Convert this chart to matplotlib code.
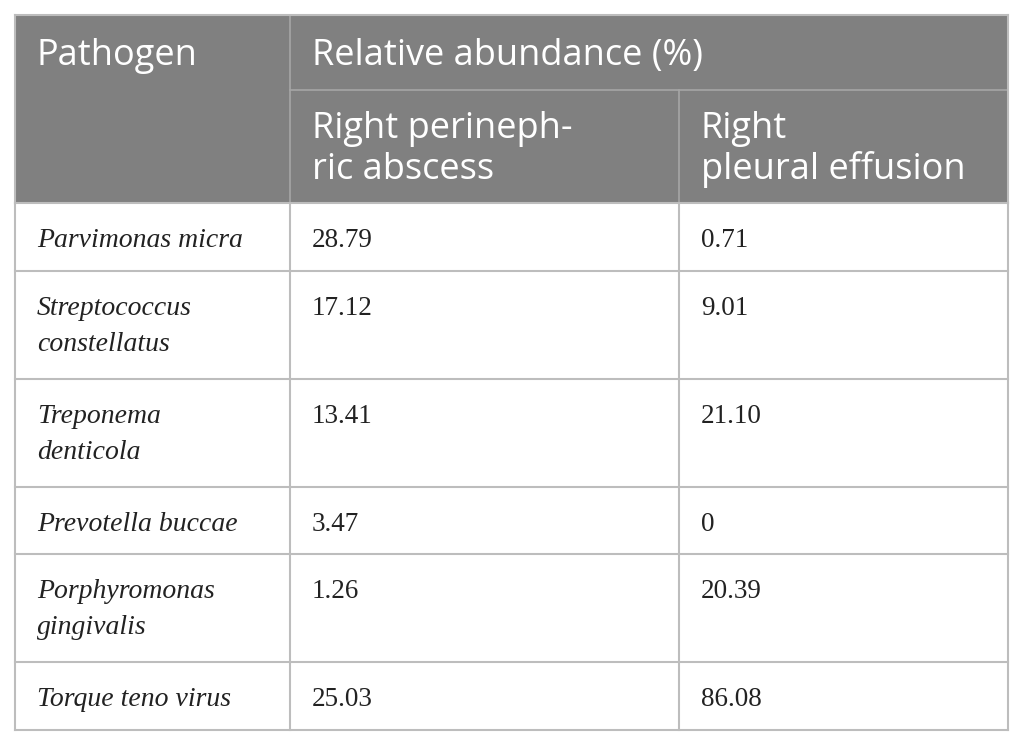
import matplotlib.pyplot as plt
from matplotlib.patches import Rectangle

pathogens = ["Parvimonas micra", "Streptococcus\nconstellatus", "Treponema\ndenticola",
             "Prevotella buccae", "Porphyromonas\ngingivalis", "Torque teno virus"]
perinephric = ["28.79", "17.12", "13.41", "3.47", "1.26", "25.03"]
pleural = ["0.71", "9.01", "21.10", "0", "20.39", "86.08"]
header_top = ["Pathogen", "Relative abundance (%)"]
header_sub = ["Right perineph-\nric abscess", "Right\npleural effusion"]

# layout in pixels
W, H = 1025, 746
col_x = [15, 290, 679, 1008]
head_y = [15, 90, 203]
row_edges = [203, 271, 379, 487, 554, 662, 730]
pad_x = 22
grey = "#808080"
line_c = "#bdbdbd"

fig = plt.figure(figsize=(W / 100, H / 100), dpi=100)
ax = fig.add_axes([0, 0, 1, 1])
ax.set_xlim(0, W)
ax.set_ylim(H, 0)
ax.axis("off")


def put(x, y, s, pitch, **kw):
    # one text per line, baselines pitch px apart
    for k, line in enumerate(s.split("\n")):
        ax.text(x, y + k * pitch, line, va="baseline", ha="left", **kw)


# header background
ax.add_patch(Rectangle((col_x[0], head_y[0]), col_x[-1] - col_x[0], head_y[2] - head_y[0],
                       facecolor=grey, edgecolor="none"))
ax.plot([col_x[1], col_x[-1]], [head_y[1]] * 2, color="#a6a6a6", lw=1.2)
ax.plot([col_x[1]] * 2, [head_y[0], head_y[2]], color="#a6a6a6", lw=1.2)
ax.plot([col_x[2]] * 2, [head_y[1], head_y[2]], color="#a6a6a6", lw=1.2)

hfont = dict(family="Open Sans", fontsize=26, color="white")
put(col_x[0] + pad_x, head_y[0] + 50, header_top[0], 41, **hfont)
put(col_x[1] + pad_x, head_y[0] + 50, header_top[1], 41, **hfont)
put(col_x[1] + pad_x, head_y[1] + 48, header_sub[0], 41, **hfont)
put(col_x[2] + pad_x, head_y[1] + 48, header_sub[1], 41, **hfont)

# body grid
for y in row_edges:
    ax.plot([col_x[0], col_x[-1]], [y, y], color=line_c, lw=1.5)
for x in col_x:
    ax.plot([x, x], [row_edges[0], row_edges[-1]], color=line_c, lw=1.5)
ax.plot([col_x[0], col_x[0]], [head_y[0], head_y[2]], color=line_c, lw=1.5)
ax.plot([col_x[-1], col_x[-1]], [head_y[0], head_y[2]], color=line_c, lw=1.5)
ax.plot([col_x[0], col_x[-1]], [head_y[0], head_y[0]], color=line_c, lw=1.5)

bfont = dict(family="Liberation Serif", color="#222222")
for i, top in enumerate(row_edges[:-1]):
    by = top + 44
    put(col_x[0] + pad_x, by, pathogens[i], 36, fontstyle="italic", fontsize=20, **bfont)
    put(col_x[1] + pad_x, by, perinephric[i], 36, fontsize=19.5, **bfont)
    put(col_x[2] + pad_x, by, pleural[i], 36, fontsize=19.5, **bfont)

fig.savefig("out.png", dpi=100)
